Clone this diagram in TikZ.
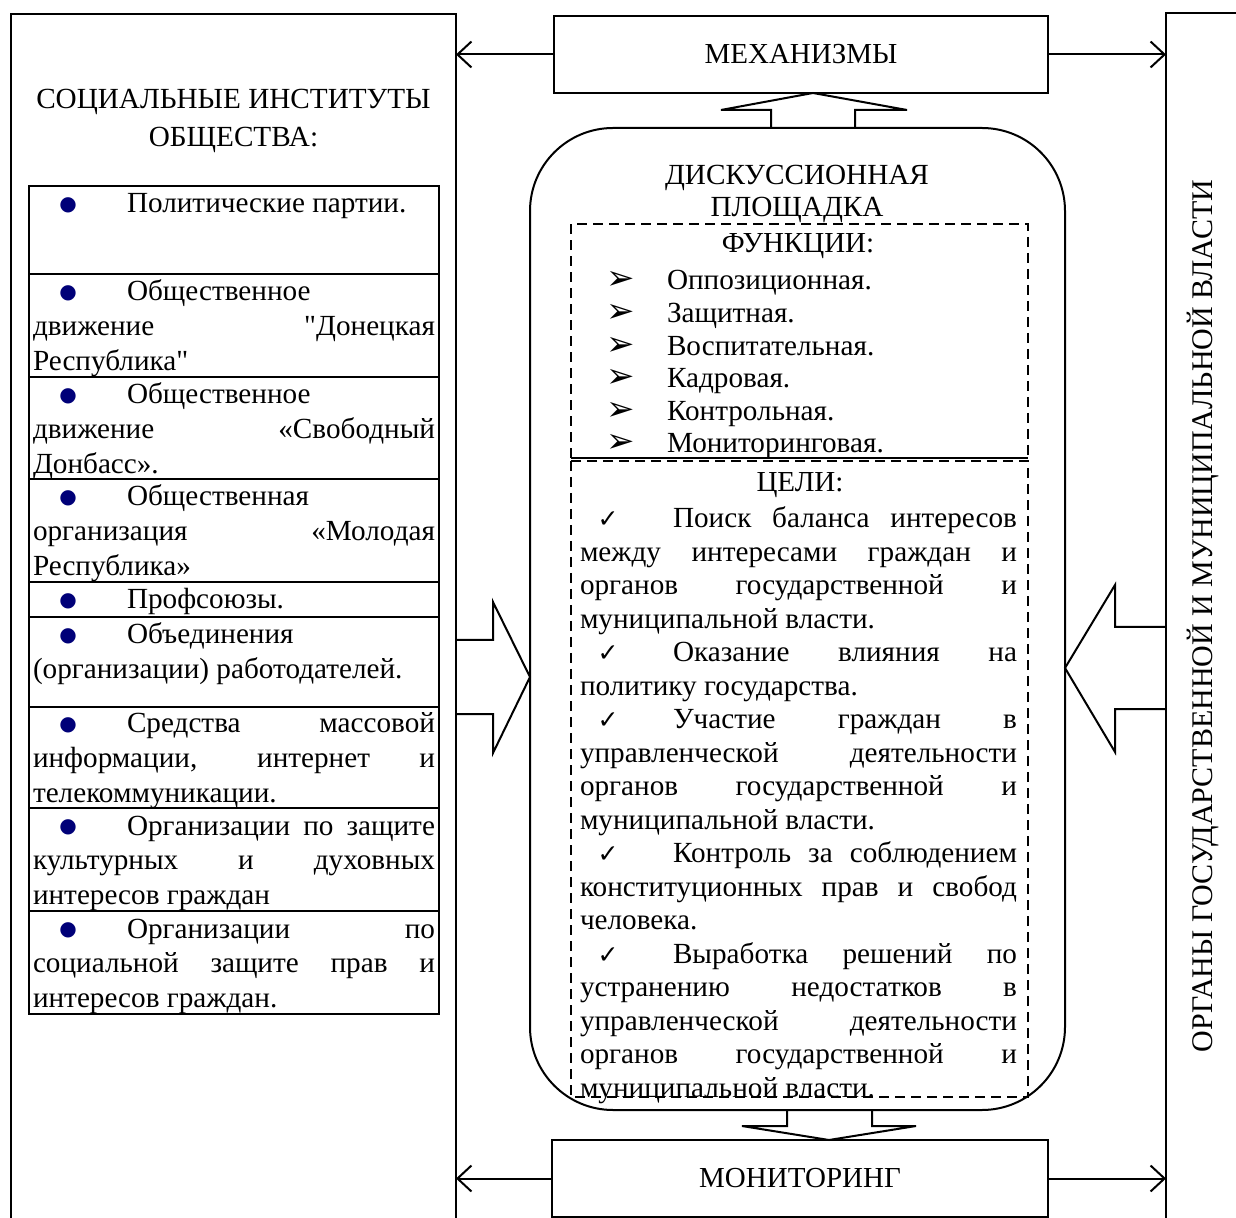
\documentclass[tikz,border=0pt]{standalone}
\usepackage{fontspec}
\setmainfont{Liberation Serif}
\newfontfamily\qfont{Liberation Serif}[Ligatures=TeXOff]
\newfontfamily\dejavu{DejaVu Sans}
\usetikzlibrary{arrows.meta}
\definecolor{navy}{RGB}{0,0,120}
\newcommand\sq{{\qfont"}}
\newcommand\bul{\raisebox{1.2pt}{\fontsize{10}{10}\selectfont\dejavu\textcolor{navy}{●}}}
\newcommand\jline[1]{\hbox to\hsize{\spaceskip=0.25em plus 1fil\relax #1}}
\newcommand\lline[1]{\hbox to\hsize{#1\hfil}}
\newcommand\cenline[1]{\hbox to\hsize{\hfil #1\hfil}}
\newcommand\bline[1]{\hbox to\hsize{\hskip17.5pt\makebox[0pt]{\bul}\hskip29.5pt #1\hfil}}
\newcommand\bjline[1]{\hbox to\hsize{\spaceskip=0.25em plus 1fil\relax\hskip17.5pt\makebox[0pt]{\bul}\hskip29.5pt #1}}
\newcommand\ckjline[1]{\hbox to\hsize{\spaceskip=0.25em plus 1fil\relax\hskip14pt\makebox[0pt]{\fontsize{12.5}{12}\selectfont\dejavu ✓}\hskip32.5pt #1}}
\newcommand\arrline[1]{\hbox to\hsize{\hskip25pt\makebox[0pt]{\fontsize{17}{17}\selectfont\dejavu ➢}\hskip23pt #1\hfil}}
\newcommand\blk[3]{\parbox[t]{#1}{\lineskiplimit=-30pt\baselineskip=#2 #3}}
\begin{document}
\begin{tikzpicture}[x=0.5pt,y=-0.5pt,
  every node/.style={inner sep=0pt, outer sep=0pt},
  txt/.style={font=\fontsize{14.6}{17.25}\selectfont, anchor=base west},
  hd/.style={font=\fontsize{14.5}{17.25}\selectfont, anchor=base},
  solidline/.style={line width=1pt},
  framebox/.style={draw, line width=1pt, minimum width=247pt, minimum height=38.5pt, font=\fontsize{14.5}{17}\selectfont},
  dbox/.style={draw, line width=0.8pt, dash pattern=on 5pt off 3pt},
  link/.style={line width=1pt, -{Straight Barb[length=7pt,width=13pt]}},
  blockarrow/.style={draw, line width=1pt, line join=miter}]

\useasboundingbox (0,0) rectangle (1236,1218);

% big side frames
\draw[solidline] (11,1218) -- (11,14) -- (456,14) -- (456,1218);
\coordinate (lbR) at (456,0);
\draw[solidline] (1240,13) -- (1166,13) -- (1166,1218);
\coordinate (rbL) at (1166,0);

% left title
\node[txt] (soc) at (13.5,108.5) {\blk{220pt}{19pt}{\cenline{СОЦИАЛЬНЫЕ ИНСТИТУТЫ}\cenline{ОБЩЕСТВА:}}};

% table
\draw[solidline] (29,186) rectangle (439,1014);
\foreach \yy in {274,377,479,582,617,707,808,911} \draw[solidline] (29,\yy) -- (439,\yy);

\node[txt] (r1) at (33,213) {\blk{201pt}{17.3pt}{\bline{Политические партии.}}};
\node[txt] (r2) at (33,301) {\blk{201pt}{17.3pt}{\bline{Общественное}\jline{движение \sq Донецкая}\lline{Республика\sq}}};
\node[txt] (r3) at (33,404) {\blk{201pt}{17.3pt}{\bline{Общественное}\jline{движение «Свободный}\lline{Донбасс».}}};
\node[txt] (r4) at (33,506) {\blk{201pt}{17.3pt}{\bline{Общественная}\jline{организация «Молодая}\lline{Республика»}}};
\node[txt] (r5) at (33,609) {\blk{201pt}{17.3pt}{\bline{Профсоюзы.}}};
\node[txt] (r6) at (33,644) {\blk{201pt}{17.3pt}{\bline{Объединения}\lline{(организации) работодателей.}}};
\node[txt] (r7) at (33,733) {\blk{201pt}{17.3pt}{\bjline{Средства массовой}\jline{информации, интернет и}\lline{телекоммуникации.}}};
\node[txt] (r8) at (33,835) {\blk{201pt}{17.3pt}{\bjline{Организации по защите}\jline{культурных и духовных}\lline{интересов граждан}}};
\node[txt] (r9) at (33,938) {\blk{201pt}{17.3pt}{\bjline{Организации по}\jline{социальной защите прав и}\lline{интересов граждан.}}};

% top and bottom boxes
\node[framebox] (mech) at (801,54.5) {МЕХАНИЗМЫ};
\node[framebox, minimum width=248pt] (mon) at (800,1178.5) {МОНИТОРИНГ};
\draw[link] (mech.west) -- (mech.west -| lbR);
\draw[link] (mech.east) -- (mech.east -| rbL);
\draw[link] (mon.west) -- (mon.west -| lbR);
\draw[link] (mon.east) -- (mon.east -| rbL);

% discussion platform
\node[draw, line width=1pt, rounded corners=41.5pt, minimum width=267.5pt, minimum height=491pt] (disc) at (797.5,619) {};

% block arrows
\draw[blockarrow] (771,128) -- (771,110) -- (721,110) -- (813,93) -- (907,110) -- (855,110) -- (855,128);
\draw[blockarrow] (787,1110) -- (787,1126) -- (742,1126) -- (829,1140) -- (916,1126) -- (872,1126) -- (872,1110);
\draw[blockarrow] (456,640) -- (493,640) -- (493,602) -- (530,677) -- (493,753) -- (493,714) -- (456,714);
\draw[blockarrow] (1166,627) -- (1115,627) -- (1115,585) -- (1065,668) -- (1115,752) -- (1115,709) -- (1166,709);

% dashed boxes
\draw[dbox] (571,458) -- (571,224) -- (1028,224) -- (1028,458);
\draw[line width=0.6pt] (571,458) -- (1028,458);
\draw[dbox] (571,461) rectangle (1028,1097);

\node[txt] (dtitle) at (647,184.5) {\blk{150pt}{16pt}{\cenline{ДИСКУССИОННАЯ}\cenline{ПЛОЩАДКА}}};
\node[hd] (fhead) at (798,253) {ФУНКЦИИ:};
\node[txt] (funcs) at (571,290) {\blk{228.5pt}{16.3pt}{\arrline{Оппозиционная.}\arrline{Защитная.}\arrline{Воспитательная.}\arrline{Кадровая.}\arrline{Контрольная.}\arrline{Мониторинговая.}}};
\node[hd] (ghead) at (800,492) {ЦЕЛИ:};
\node[txt] (goals) at (580,528) {\blk{218.5pt}{16.75pt}{%
\ckjline{Поиск баланса интересов}%
\jline{между интересами граждан и}%
\jline{органов государственной и}%
\lline{муниципальной власти.}%
\ckjline{Оказание влияния на}%
\lline{политику государства.}%
\ckjline{Участие граждан в}%
\jline{управленческой деятельности}%
\jline{органов государственной и}%
\lline{муниципальной власти.}%
\ckjline{Контроль за соблюдением}%
\jline{конституционных прав и свобод}%
\lline{человека.}%
\ckjline{Выработка решений по}%
\jline{устранению недостатков в}%
\jline{управленческой деятельности}%
\jline{органов государственной и}%
\lline{муниципальной власти.}}};

% right vertical label
\node[font=\fontsize{15}{18}\selectfont, rotate=90] (organs) at (1203,616) {ОРГАНЫ ГОСУДАРСТВЕННОЙ И МУНИЦИПАЛЬНОЙ ВЛАСТИ};
\end{tikzpicture}
\end{document}
